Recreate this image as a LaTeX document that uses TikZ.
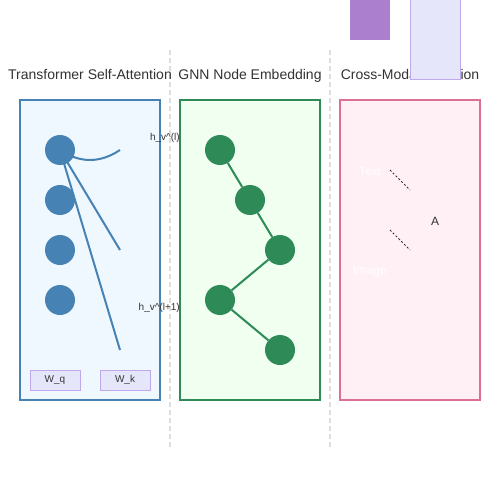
\documentclass[tikz,border=0pt]{standalone}
\usepackage{fontspec}
\setmainfont{Liberation Sans}
\definecolor{tblue}{HTML}{4682B4}
\definecolor{tbluefill}{HTML}{F0F8FF}
\definecolor{ggreen}{HTML}{2E8B57}
\definecolor{ggreenfill}{HTML}{F0FFF0}
\definecolor{cpink}{HTML}{DB7093}
\definecolor{cpinkfill}{HTML}{FFF0F5}
\definecolor{lav}{HTML}{E6E6FA}
\definecolor{lavline}{HTML}{C0A8EC}
\definecolor{purp}{HTML}{AB7FCE}
\definecolor{txt}{HTML}{333333}
\definecolor{sep}{HTML}{DDDDDD}
\tikzset{
  panel/.style={rectangle, line width=2pt, minimum width=140pt, minimum height=300pt, inner sep=0pt},
  title/.style={anchor=base, text=txt, font=\fontsize{14}{16}\selectfont, inner sep=0pt},
  tnode/.style={circle, fill=tblue, minimum size=30pt, inner sep=0pt},
  gnode/.style={circle, fill=ggreen, minimum size=30pt, inner sep=0pt},
  tlink/.style={draw=tblue, line width=2pt},
  glink/.style={draw=ggreen, line width=2pt},
  wbox/.style={rectangle, fill=lav, draw=lavline, line width=1pt, minimum width=50pt, minimum height=20pt, inner sep=0pt, text=txt, font=\fontsize{10}{12}\selectfont},
  small/.style={text=txt, font=\fontsize{10}{12}\selectfont, inner sep=0pt},
  sepline/.style={draw=sep, line width=2pt, dash pattern=on 5pt off 3pt},
  attn/.style={draw=txt, line width=1pt, dash pattern=on 2pt off 2pt},
  wlabel/.style={text=white, font=\fontsize{12}{14}\selectfont, inner sep=0pt},
}
\begin{document}
\begin{tikzpicture}[x=1pt, y=-1pt]
\useasboundingbox (0,0) rectangle (500,500);
\fill[white] (0,0) rectangle (500,500);

% separators
\coordinate (s1a) at (170,50); \coordinate (s1b) at (170,450);
\coordinate (s2a) at (330,50); \coordinate (s2b) at (330,450);
\draw[sepline] (s1a) -- (s1b);
\draw[sepline] (s2a) -- (s2b);

% panels
\node[panel, draw=tblue, fill=tbluefill] (p1) at (90,250) {};
\node[panel, draw=ggreen, fill=ggreenfill] (p2) at (250,250) {};
\node[panel, draw=cpink, fill=cpinkfill] (p3) at (410,250) {};

% titles
\node[title] (t1title) at (90,80) {Transformer Self-Attention};
\node[title] (t2title) at (250,80) {GNN Node Embedding};
\node[title] (t3title) at (410,80) {Cross-Modal Attention};

% transformer
\coordinate (q1c) at (60,150);
\coordinate (e1) at (120,150);
\coordinate (e2) at (120,250);
\coordinate (e3) at (120,350);
\draw[tlink] (q1c) .. controls (80,163.33) and (100,163.33) .. (e1);
\draw[tlink] (q1c) -- (e2);
\draw[tlink] (q1c) -- (e3);
\node[tnode] (q1) at (q1c) {};
\node[tnode] (q2) at (60,200) {};
\node[tnode] (q3) at (60,250) {};
\node[tnode] (q4) at (60,300) {};
\node[small, anchor=base east] (hl) at (180,140) {h\_v\^{}(l)};
\node[small, anchor=base east] (hl1) at (180,310) {h\_v\^{}(l+1)};
\node[wbox] (wq) at (55,380) {W\_q};
\node[wbox] (wk) at (125,380) {W\_k};

% GNN
\node[gnode] (g1) at (220,150) {};
\node[gnode] (g2) at (250,200) {};
\node[gnode] (g3) at (280,250) {};
\node[gnode] (g4) at (220,300) {};
\node[gnode] (g5) at (280,350) {};
\draw[glink] (g1) -- (g2);
\draw[glink] (g2) -- (g3);
\draw[glink] (g3) -- (g4);
\draw[glink] (g4) -- (g5);

% cross-modal
\node[wlabel, anchor=base] (txtl) at (370,175) {Text};
\node[wlabel, anchor=base] (imgl) at (370,274) {Image};
\node[small, anchor=base, font=\fontsize{12}{14}\selectfont] (A) at (435,225) {A};
\coordinate (a1) at (390,170); \coordinate (a2) at (410,190);
\coordinate (b1) at (390,230); \coordinate (b2) at (410,250);
\draw[attn] (a1) -- (a2);
\draw[attn] (b1) -- (b2);

% top rectangles
\node[rectangle, fill=purp, minimum width=40pt, minimum height=40pt, inner sep=0pt] (r1) at (370,20) {};
\node[rectangle, fill=lav, draw=lavline, line width=1pt, minimum width=50pt, minimum height=80pt, inner sep=0pt] (r2) at (435,40) {};
\end{tikzpicture}
\end{document}
